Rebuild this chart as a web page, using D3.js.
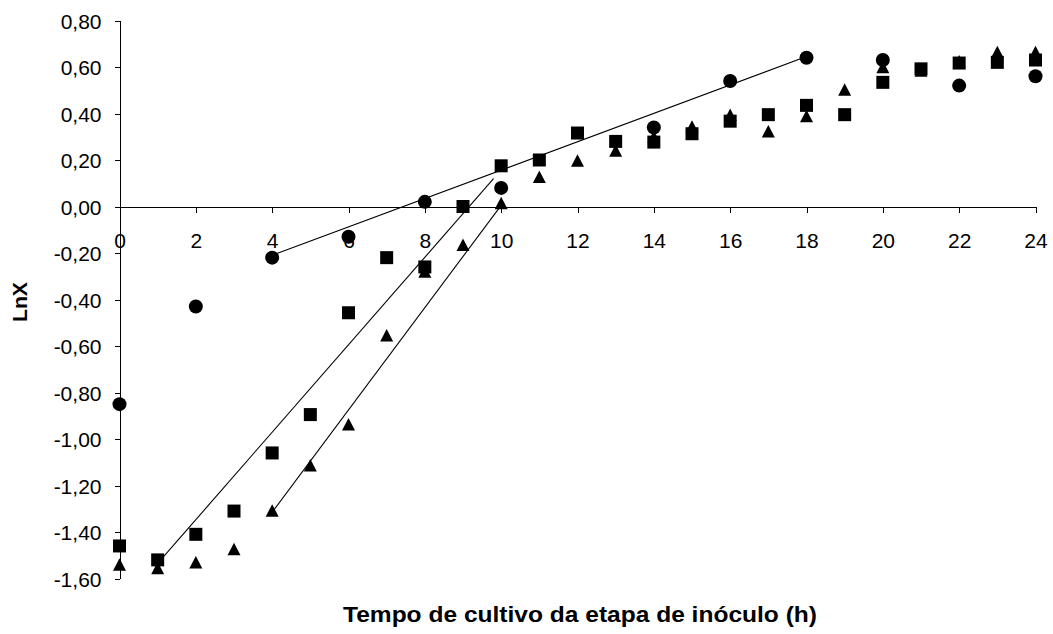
<!DOCTYPE html>
<html>
<head>
<meta charset="utf-8">
<script src="https://cdn.jsdelivr.net/npm/d3@7"></script>
<style>
  html, body { margin: 0; padding: 0; background: #fff; }
  svg { display: block; }
  .tick text { font-family: "Liberation Sans", Arial, sans-serif; font-size: 21px; fill: #000; }
  .axis path, .axis line { stroke: #000; stroke-width: 1px; shape-rendering: crispEdges; }
  .title { font-family: "Liberation Sans", Arial, sans-serif; font-weight: bold; font-size: 20px; fill: #000; }
</style>
</head>
<body>
<svg id="chart" width="1053" height="634"></svg>
<script>
// Ln of biomass concentration over inoculum cultivation time, three runs
const hoursCircle = [0, 2, 4, 6, 8, 10, 14, 16, 18, 20, 22, 24];
const lnxCircle   = [-0.85, -0.43, -0.22, -0.13, 0.02, 0.08, 0.34, 0.54, 0.64, 0.63, 0.52, 0.56];

const hoursSquare = [0, 1, 2, 3, 4, 5, 6, 7, 8, 9, 10, 11, 12, 13, 14, 15, 16, 17, 18, 19, 20, 21, 22, 23, 24];
const lnxSquare   = [-1.46, -1.52, -1.41, -1.31, -1.06, -0.895, -0.457, -0.22, -0.26, 0.00, 0.175, 0.20, 0.316,
                     0.28, 0.277, 0.313, 0.367, 0.395, 0.435, 0.395, 0.534, 0.592, 0.617, 0.62, 0.63];

const hoursTriangle = [0, 1, 2, 3, 4, 5, 6, 7, 8, 9, 10, 11, 12, 13, 14, 15, 16, 17, 18, 19, 20, 21, 22, 23, 24];
const lnxTriangle   = [-1.54, -1.555, -1.53, -1.473, -1.307, -1.113, -0.937, -0.554, -0.28, -0.165, 0.015, 0.128, 0.198,
                       0.241, 0.30, 0.344, 0.395, 0.324, 0.389, 0.503, 0.60, 0.585, 0.625, 0.664, 0.664];

// Exponential-phase fitted lines (start and end of each segment)
const fitCircleX   = [4, 18];
const fitCircleY   = [-0.21, 0.645];
const fitSquareX   = [1, 9.8];
const fitSquareY   = [-1.535, 0.12];
const fitTriangleX = [4, 10];
const fitTriangleY = [-1.315, 0.005];

const xTicks = [0, 2, 4, 6, 8, 10, 12, 14, 16, 18, 20, 22, 24];
const yTicks = [-1.6, -1.4, -1.2, -1.0, -0.8, -0.6, -0.4, -0.2, 0, 0.2, 0.4, 0.6, 0.8];

const xTitle = "Tempo de cultivo da etapa de inóculo (h)";
const yTitle = "LnX";

const svg = d3.select("#chart");
const W = 1053, H = 634;
svg.append("rect").attr("width", W).attr("height", H).attr("fill", "#fff");

const x = d3.scaleLinear().domain([0, 24]).range([119.5, 1035.5]);
const y = d3.scaleLinear().domain([-1.6, 0.8]).range([578.5, 20.5]);

const ptBR = d3.formatLocale({ decimal: ",", thousands: ".", grouping: [3], currency: ["R$", ""], minus: "-" });
const fmt = ptBR.format(".2f");

// Y axis
const yAxis = svg.append("g")
  .attr("class", "axis")
  .attr("transform", `translate(${x(0)},0)`)
  .call(d3.axisLeft(y).tickValues(yTicks).tickSize(5).tickSizeOuter(0).tickPadding(13).tickFormat(fmt));
yAxis.selectAll(".tick text").attr("dy", "0.36em");

// X axis through zero
svg.append("g")
  .attr("class", "axis")
  .attr("transform", `translate(0,${y(0)})`)
  .call(d3.axisBottom(x).tickValues(xTicks).tickSize(6).tickSizeOuter(0).tickPadding(21).tickFormat(d3.format("d")));

// Axis titles
svg.append("text")
  .attr("class", "title")
  .attr("x", 580).attr("y", 622)
  .attr("text-anchor", "middle")
  .style("font-size", "22px")
  .attr("textLength", 474)
  .attr("lengthAdjust", "spacingAndGlyphs")
  .text(xTitle);

svg.append("text")
  .attr("class", "title")
  .attr("transform", "translate(27,302) rotate(-90)")
  .attr("text-anchor", "middle")
  .attr("textLength", 40)
  .attr("lengthAdjust", "spacingAndGlyphs")
  .text(yTitle);

// Fitted lines
const line = d3.line().x(d => x(d[0])).y(d => y(d[1]));
[[fitCircleX, fitCircleY], [fitSquareX, fitSquareY], [fitTriangleX, fitTriangleY]].forEach(([xs, ys]) => {
  svg.append("path")
    .attr("d", line(d3.zip(xs, ys)))
    .attr("fill", "none")
    .attr("stroke", "#000")
    .attr("stroke-width", 1.1);
});

// Markers
const circleData = d3.zip(hoursCircle, lnxCircle);
const squareData = d3.zip(hoursSquare, lnxSquare);
const triangleData = d3.zip(hoursTriangle, lnxTriangle);

svg.append("g").selectAll("circle")
  .data(circleData).join("circle")
  .attr("cx", d => x(d[0])).attr("cy", d => y(d[1]))
  .attr("r", 7).attr("fill", "#000");

const sq = 13;
svg.append("g").selectAll("rect")
  .data(squareData).join("rect")
  .attr("x", d => x(d[0]) - sq / 2).attr("y", d => y(d[1]) - sq / 2)
  .attr("width", sq).attr("height", sq).attr("fill", "#000");

const tw = 13, th = 12.5;
const triPath = `M0,${-th / 2}L${tw / 2},${th / 2}L${-tw / 2},${th / 2}Z`;
svg.append("g").selectAll("path")
  .data(triangleData).join("path")
  .attr("transform", d => `translate(${x(d[0])},${y(d[1])})`)
  .attr("d", triPath).attr("fill", "#000");
</script>
</body>
</html>
